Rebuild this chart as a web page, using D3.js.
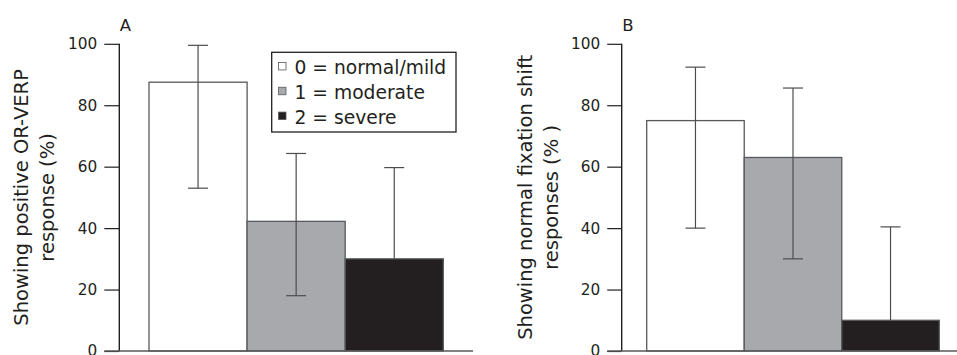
<!DOCTYPE html>
<html>
<head>
<meta charset="utf-8">
<script src="https://cdn.jsdelivr.net/npm/d3@7"></script>
<style>
  body { margin: 0; background: #fff; }
  svg { display: block; }
  text { font-family: "DejaVu Sans", sans-serif; fill: #231f20; }
</style>
</head>
<body>
<svg id="chart" width="957" height="355"></svg>
<script>
// --- Data -----------------------------------------------
const categories = ["0 = normal/mild", "1 = moderate", "2 = severe"];
const fills = ["#ffffff", "#a7a9ac", "#231f20"];

// Panel A: positive OR-VERP response (%)
const valuesA = [87.5, 42.2, 30.0];
const errLowA = [53.0, 18.0, null];
const errHighA = [99.5, 64.3, 59.7];

// Panel B: normal fixation shift responses (%)
const valuesB = [75.0, 63.0, 10.0];
const errLowB = [40.0, 30.0, null];
const errHighB = [92.4, 85.6, 40.4];

const yTicks = [0, 20, 40, 60, 80, 100];

const svg = d3.select("#chart");

// One panel = axis, bars, error bars, labels
function drawPanel(opts) {
  const g = svg.append("g");

  const y = d3.scaleLinear().domain([0, 100]).range([351, 43.8]);
  const x = d3.scaleBand()
    .domain(categories)
    .range([opts.barLeft, opts.barRight])
    .paddingInner(0);

  // bars
  g.selectAll("rect.bar")
    .data(opts.values)
    .enter()
    .append("rect")
    .attr("class", "bar")
    .attr("x", (d, i) => x(categories[i]))
    .attr("y", d => y(d))
    .attr("width", x.bandwidth())
    .attr("height", d => y(0) - y(d))
    .attr("fill", (d, i) => fills[i])
    .attr("stroke", "#58595b")
    .attr("stroke-width", 1.3);

  // error bars (drawn over bars)
  const cap = 10;
  opts.values.forEach((v, i) => {
    const cx = x(categories[i]) + x.bandwidth() / 2;
    const lo = opts.errLow[i] === null ? v : opts.errLow[i];
    const hi = opts.errHigh[i];
    g.append("line")
      .attr("x1", cx).attr("x2", cx)
      .attr("y1", y(lo)).attr("y2", y(hi))
      .attr("stroke", "#4d4d4f").attr("stroke-width", 1.2);
    g.append("line")
      .attr("x1", cx - cap).attr("x2", cx + cap)
      .attr("y1", y(hi)).attr("y2", y(hi))
      .attr("stroke", "#4d4d4f").attr("stroke-width", 1.2);
    if (opts.errLow[i] !== null) {
      g.append("line")
        .attr("x1", cx - cap).attr("x2", cx + cap)
        .attr("y1", y(lo)).attr("y2", y(lo))
        .attr("stroke", "#4d4d4f").attr("stroke-width", 1.2);
    }
  });

  // y axis
  const axis = d3.axisLeft(y)
    .tickValues(yTicks)
    .tickSize(opts.tickLen)
    .tickPadding(7);
  const ga = g.append("g")
    .attr("transform", "translate(" + opts.axisX + ",0)")
    .call(axis);
  ga.select(".domain")
    .attr("d", "M0," + y(0) + "V" + y(100))
    .attr("stroke", "#231f20")
    .attr("stroke-width", 1.4);
  ga.selectAll(".tick line").attr("stroke", "#231f20").attr("stroke-width", 1.2);
  ga.selectAll(".tick text")
    .style("font-family", "DejaVu Sans, sans-serif")
    .style("font-size", "15.3px")
    .attr("fill", "#231f20");

  // baseline
  g.append("line")
    .attr("x1", opts.axisX - opts.tickLen).attr("x2", opts.baseRight)
    .attr("y1", y(0)).attr("y2", y(0))
    .attr("stroke", "#58595b").attr("stroke-width", 1.4);

  // panel letter
  g.append("text")
    .attr("x", opts.axisX + 0.5)
    .attr("y", 30.7)
    .style("font-size", "16.5px")
    .style("letter-spacing", "0.5px")
    .text(opts.letter);

  // y label, two lines
  const cy = (y(0) + y(100)) / 2;
  opts.label.forEach((line, k) => {
    g.append("text")
      .attr("transform", "translate(" + opts.labelX[k] + "," + cy + ") rotate(-90)")
      .attr("text-anchor", "middle")
      .style("font-size", "19.5px")
      .text(line);
  });
}

drawPanel({
  letter: "A",
  values: valuesA, errLow: errLowA, errHigh: errHighA,
  axisX: 119.3, tickLen: 15, barLeft: 149, barRight: 443.3, baseRight: 473,
  label: ["Showing positive OR-VERP", "response (%)"],
  labelX: [27.5, 53.5]
});

drawPanel({
  letter: "B",
  values: valuesB, errLow: errLowB, errHigh: errHighB,
  axisX: 621.7, tickLen: 14.5, barLeft: 646.7, barRight: 939.3, baseRight: 957,
  label: ["Showing normal fixation shift", "responses (% )"],
  labelX: [531.7, 558]
});

// legend, panel A
const legend = svg.append("g");
legend.append("rect")
  .attr("x", 271.7).attr("y", 52.3)
  .attr("width", 184.3).attr("height", 79.7)
  .attr("fill", "#fff")
  .attr("stroke", "#231f20")
  .attr("stroke-width", 1.3);

const rowY = d3.scaleBand().domain(categories).range([55, 129.5]);
categories.forEach((c, i) => {
  const base = rowY(c) + rowY.bandwidth() / 2 + 7;
  legend.append("rect")
    .attr("x", 278.5).attr("y", base - 12)
    .attr("width", 7.5).attr("height", 7.5)
    .attr("fill", fills[i])
    .attr("stroke", "#58595b")
    .attr("stroke-width", 0.8);
  legend.append("text")
    .attr("x", 294.5)
    .attr("y", base)
    .style("font-size", "18.7px")
    .text(c);
});
</script>
</body>
</html>
